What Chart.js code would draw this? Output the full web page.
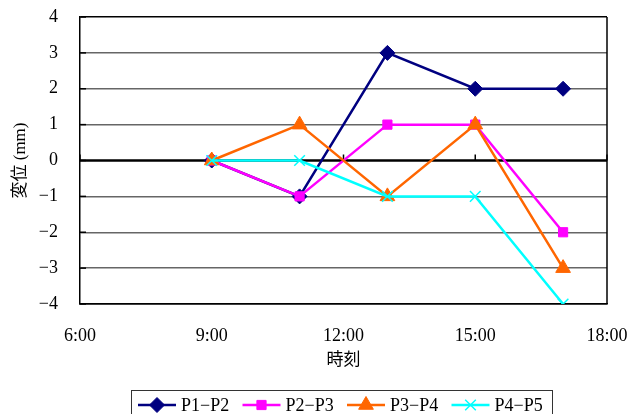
<!DOCTYPE html>
<html>
<head>
<meta charset="utf-8">
<script src="https://cdn.jsdelivr.net/npm/chart.js@4/dist/chart.umd.min.js"></script>
<style>
  html, body { margin: 0; padding: 0; background: #fff; }
  #wrap { width: 641px; height: 414px; }
</style>
</head>
<body>
<div id="wrap"><canvas id="c" width="641" height="414"></canvas></div>
<script>
// Measurement times (hour of day) and displacement series (mm)
const hours = [9, 11, 13, 15, 17];
const seriesNames = ['P1-P2', 'P2-P3', 'P3-P4', 'P4-P5'];
const p1p2 = [0, -1, 3, 2, 2];
const p2p3 = [0, -1, 1, 1, -2];
const p3p4 = [0, 1, -1, 1, -3];
const p4p5 = [0, 0, -1, -1, -4];
const xTickHours = [6, 9, 12, 15, 18];
const yTickValues = [-4, -3, -2, -1, 0, 1, 2, 3, 4];

const seriesValues = [p1p2, p2p3, p3p4, p4p5];
const colors = ['#000080', '#FF00FF', '#FF6600', '#00FFFF'];
const markers = ['rectRot', 'rect', 'triangle', 'crossRot'];
const markerSizes = [7.5, 6.5, 8.5, 7.5];

const FONT = "'Liberation Serif', 'Noto Sans CJK JP', serif";
const dash = s => String(s).replace(/-/g, '\u2212');

// later series are painted over earlier ones
const datasets = seriesValues.map((vals, i) => ({
  label: seriesNames[i],
  data: hours.map((h, j) => ({ x: h, y: vals[j] })),
  order: seriesValues.length - i,
  borderColor: colors[i],
  backgroundColor: colors[i],
  borderWidth: 2.5,
  pointStyle: markers[i],
  pointRadius: markerSizes[i],
  pointHoverRadius: markerSizes[i],
  pointBorderWidth: markers[i] === 'crossRot' ? 1.5 : 1,
  pointBorderColor: colors[i],
  pointBackgroundColor: colors[i],
  tension: 0,
  fill: false
}));

// Axis frame: zero line with inside ticks, right border, left inside ticks, legend
const framePlugin = {
  id: 'frame',
  beforeDatasetsDraw(chart) {
    const { ctx, chartArea: a, scales: { x, y } } = chart;
    ctx.save();
    ctx.strokeStyle = '#000';
    ctx.lineWidth = 1.5;
    ctx.beginPath();
    ctx.moveTo(a.right, a.top);
    ctx.lineTo(a.right, a.bottom);
    ctx.stroke();
    yTickValues.forEach(v => {
      const py = y.getPixelForValue(v);
      ctx.beginPath();
      ctx.moveTo(a.left, py);
      ctx.lineTo(a.left + 6, py);
      ctx.stroke();
    });
    const y0 = y.getPixelForValue(0);
    ctx.lineWidth = 2.5;
    ctx.beginPath();
    ctx.moveTo(a.left, y0);
    ctx.lineTo(a.right, y0);
    ctx.stroke();
    ctx.lineWidth = 1.5;
    xTickHours.forEach(h => {
      const px = x.getPixelForValue(h);
      ctx.beginPath();
      ctx.moveTo(px, y0 - 6);
      ctx.lineTo(px, y0);
      ctx.stroke();
    });
    ctx.restore();
  },
  afterDraw(chart) {
    const { ctx } = chart;
    ctx.save();
    ctx.strokeStyle = '#333';
    ctx.lineWidth = 1;
    ctx.strokeRect(131.5, 390.5, 421, 30);
    ctx.font = '18px ' + FONT;
    ctx.textBaseline = 'middle';
    const cy = 405;
    chart.data.datasets.forEach((ds, i) => {
      const x0 = 138 + i * 104.5;
      ctx.strokeStyle = ds.borderColor;
      ctx.lineWidth = 2.5;
      ctx.beginPath();
      ctx.moveTo(x0, cy);
      ctx.lineTo(x0 + 38, cy);
      ctx.stroke();
      ctx.fillStyle = ds.borderColor;
      ctx.lineWidth = ds.pointBorderWidth;
      Chart.helpers.drawPoint(ctx, {
        pointStyle: ds.pointStyle,
        radius: ds.pointRadius,
        borderWidth: ds.pointBorderWidth,
        rotation: 0
      }, x0 + 19, cy);
      ctx.fillStyle = '#000';
      ctx.fillText(dash(ds.label), x0 + 43, cy + 1);
    });
    ctx.restore();
  }
};

new Chart(document.getElementById('c'), {
  type: 'line',
  data: { datasets },
  options: {
    responsive: false,
    animation: false,
    layout: { padding: { left: 0, right: 34, top: 17, bottom: 24 } },
    plugins: { legend: { display: false }, tooltip: { enabled: false } },
    scales: {
      x: {
        type: 'linear',
        min: 6,
        max: 18,
        afterBuildTicks: s => { s.ticks = xTickHours.map(v => ({ value: v })); },
        afterFit: s => { s.height = 86; s.paddingLeft = 0; s.paddingRight = 0; },
        ticks: {
          callback: v => v + ':00',
          font: { family: FONT, size: 18 },
          color: '#000',
          padding: 21,
          maxRotation: 0
        },
        grid: { display: false, drawTicks: false },
        border: { display: true, color: '#000', width: 1.5 },
        title: {
          display: true,
          text: '時刻',
          font: { family: FONT, size: 17 },
          color: '#000',
          padding: { top: 0, bottom: 19 }
        }
      },
      y: {
        min: -4,
        max: 4,
        afterBuildTicks: s => { s.ticks = yTickValues.map(v => ({ value: v })); },
        afterFit: s => { s.width = 80; s.paddingTop = 0; s.paddingBottom = 0; },
        ticks: {
          callback: v => dash(v),
          font: { family: FONT, size: 18 },
          color: '#000',
          padding: 22
        },
        grid: {
          drawTicks: false,
          color: c => (c.tick && (c.tick.value === 4 || c.tick.value === -4)) ? '#000' : '#666',
          lineWidth: c => (c.tick && c.tick.value === 0) ? 0 : 1.5
        },
        border: { display: true, color: '#000', width: 1.5 },
        title: {
          display: true,
          text: '変位 (mm)',
          font: { family: FONT, size: 17 },
          color: '#000',
          padding: { top: 10, bottom: 0 }
        }
      }
    }
  },
  plugins: [framePlugin]
});
</script>
</body>
</html>
